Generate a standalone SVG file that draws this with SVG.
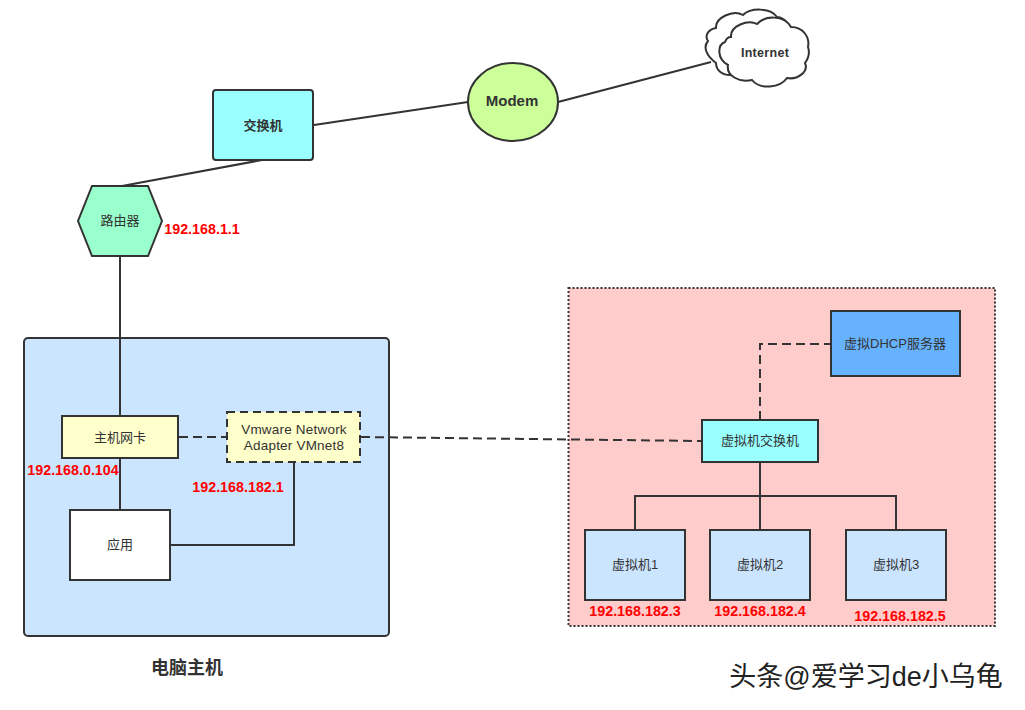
<svg xmlns="http://www.w3.org/2000/svg" width="1025" height="710" viewBox="0 0 1025 710">
<style>
text{font-family:"Liberation Sans","Noto Sans CJK SC",sans-serif;font-size:13px;fill:#333;text-anchor:middle}
.s{stroke:#333;stroke-width:2}
.l{fill:none;stroke:#333;stroke-width:2}
.d{stroke-dasharray:9 5}
.b{font-weight:bold}
.ip{font-weight:bold;font-size:14.3px;fill:#f00}
</style>
<rect width="1025" height="710" fill="#fff"/>
<g id="host-box"><rect class="s" x="24" y="338" width="365" height="298" rx="4" fill="#cce5ff"/></g>
<g id="vm-area"><rect x="568.500" y="288" width="426.500" height="338" fill="#ffcccc" stroke="#333" stroke-width="2" stroke-dasharray="2 2"/></g>
<g id="connectors">
<path class="l" d="M314 125L468 102"/>
<path class="l" d="M558 102L711 62"/>
<path class="l" d="M122 186L262 160"/>
<path class="l" d="M120 256V416"/>
<path class="l" d="M120 458V510"/>
<path class="l d" d="M179 437H226"/>
<path class="l" d="M171 545H294V462"/>
<path class="l d" d="M361 437L702 441"/>
<path class="l d" d="M760 420V344H831"/>
<path class="l" d="M760 462V496"/>
<path class="l" d="M635 530V496H896V530"/>
<path class="l" d="M760 496V530"/>
</g>
<g id="switch"><rect class="s" x="213" y="90" width="100" height="70" rx="3" fill="#99ffff"/><text class="b" x="263" y="130">交换机</text></g>
<g id="modem"><ellipse class="s" cx="513" cy="102" rx="45" ry="39" fill="#ccff99"/><text class="b" x="512" y="106" style="font-size:15px">Modem</text></g>
<g id="internet">
<path class="l" style="fill:#fff" d="M716 28C715 18 733 9 743 15C750 8 770 7 777 17C785 18 790 24 790 32L760 72L733 75C722 76 716 70 716 63C708 57 702 48 708 41C704 35 709 29 716 28Z"/>
<path class="l" style="fill:#fff" d="M731 37C730 26 748 19 757 24C765 15 784 15 791 27C803 27 810 37 808 47C810 53 808 59 805 63C809 72 797 80 787 78C780 88 760 90 752 80C740 83 726 76 728 65C717 59 717 45 725 42C726 39 728 37 731 37Z"/>
<text class="b" x="765" y="57" style="font-size:12.500px;letter-spacing:.3px">Internet</text>
</g>
<g id="router"><path class="s" fill="#99ffcc" d="M92 186H148L162 221L148 256H92L78 221Z"/><text x="120" y="225">路由器</text></g>
<g id="nic"><rect class="s" x="62" y="416" width="116" height="42" fill="#ffffcc"/><text x="120" y="442">主机网卡</text></g>
<g id="vmnet8"><rect class="s" x="227" y="412" width="133" height="50" fill="#ffffcc" stroke-dasharray="8 5"/><text x="294" y="434" style="font-size:13.500px;letter-spacing:.2px">Vmware Network</text><text x="294" y="450" style="font-size:13.500px;letter-spacing:.2px">Adapter VMnet8</text></g>
<g id="app"><rect class="s" x="70" y="510" width="100" height="70" fill="#fff"/><text x="120" y="549">应用</text></g>
<g id="dhcp"><rect class="s" x="831" y="311" width="129" height="65" fill="#66b2ff"/><text x="895" y="348">虚拟DHCP服务器</text></g>
<g id="vswitch"><rect class="s" x="702" y="420" width="116" height="42" fill="#99ffff"/><text x="760" y="445">虚拟机交换机</text></g>
<g id="vm1"><rect class="s" x="585" y="530" width="100" height="70" fill="#cce5ff"/><text x="635" y="569">虚拟机1</text></g>
<g id="vm2"><rect class="s" x="710" y="530" width="100" height="70" fill="#cce5ff"/><text x="760" y="569">虚拟机2</text></g>
<g id="vm3"><rect class="s" x="846" y="530" width="100" height="70" fill="#cce5ff"/><text x="896" y="569">虚拟机3</text></g>
<g id="labels">
<text class="ip" x="202" y="234">192.168.1.1</text>
<text class="ip" x="73" y="475">192.168.0.104</text>
<text class="ip" x="238" y="492">192.168.182.1</text>
<text class="ip" x="635" y="616">192.168.182.3</text>
<text class="ip" x="760" y="616">192.168.182.4</text>
<text class="ip" x="900" y="621">192.168.182.5</text>
<text class="b" x="187" y="674" style="font-size:18px">电脑主机</text>
<text x="866" y="686" style="font-size:27px;fill:#222">头条@爱学习de小乌龟</text>
</g>
</svg>
